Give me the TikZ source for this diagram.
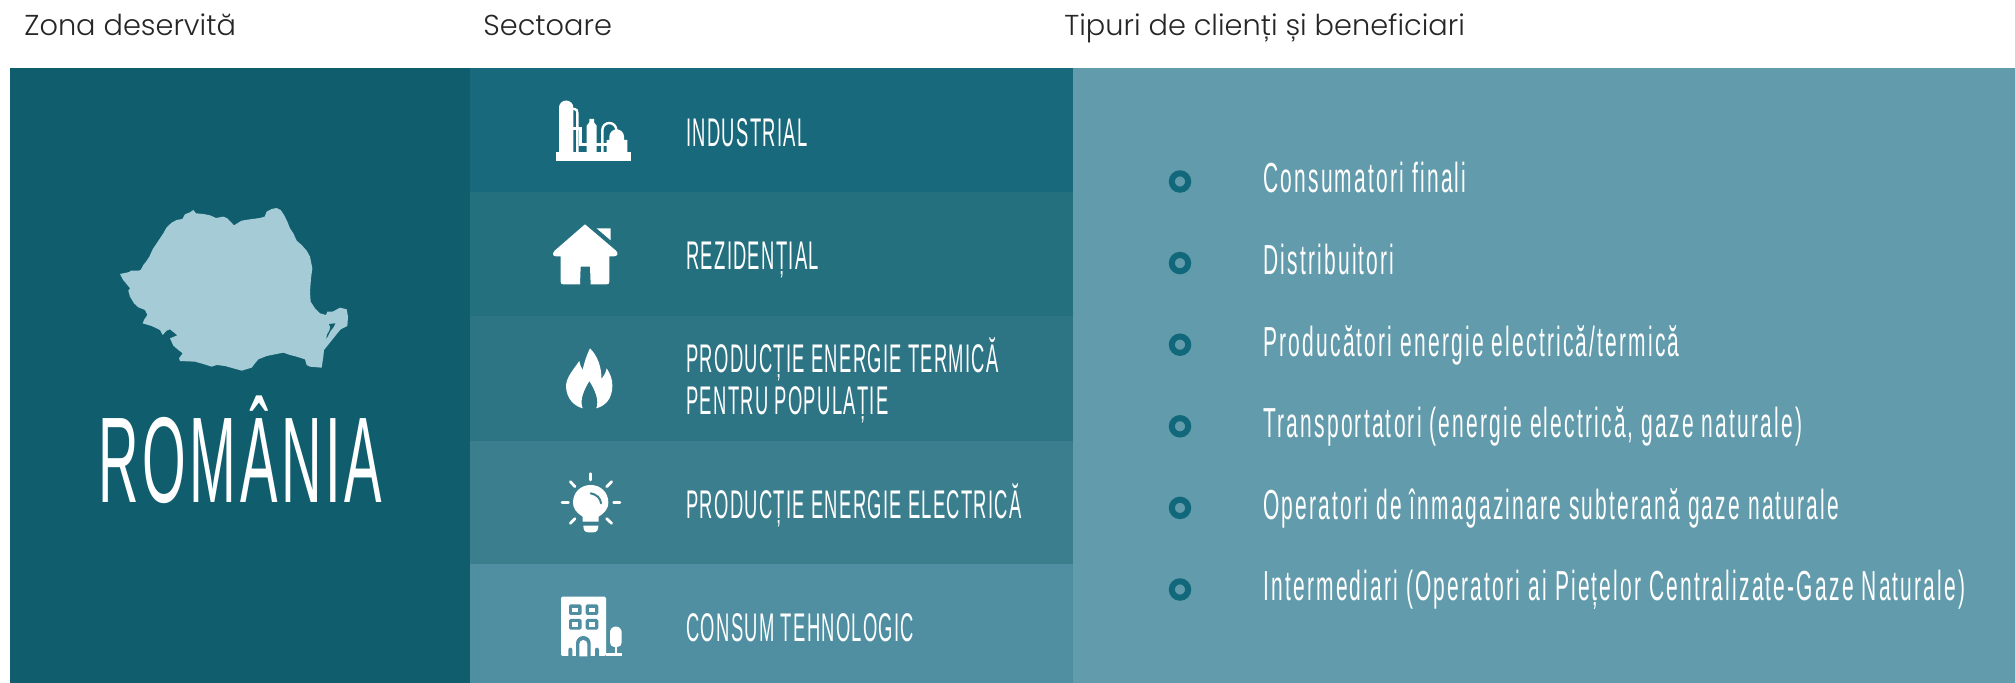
\documentclass[tikz,border=0pt]{standalone}
\usepackage{fontspec}
\setmainfont{Liberation Sans}
\newfontfamily\headfont[UprightFont=* Light]{Poppins}
\newfontfamily\sectfont[FakeStretch=0.46,LetterSpace=3.2]{Liberation Sans}
\newfontfamily\listfont[FakeStretch=0.50,LetterSpace=5.2]{Liberation Sans}
\newfontfamily\bigfont[FakeStretch=0.46,LetterSpace=3]{Liberation Sans}
\definecolor{cdark}{HTML}{105E6D}
\definecolor{crowa}{HTML}{18697C}
\definecolor{crowb}{HTML}{24707F}
\definecolor{crowc}{HTML}{2D7485}
\definecolor{crowd}{HTML}{3B7E8E}
\definecolor{crowe}{HTML}{4F8FA1}
\definecolor{cright}{HTML}{629BAB}
\definecolor{cmap}{HTML}{A4CBD6}
\definecolor{cbul}{HTML}{10687A}
\tikzset{
  headtxt/.style={anchor=base west,inner sep=0pt,text=black!85,font=\headfont\fontsize{14.4}{17}\selectfont},
  secttxt/.style={anchor=base west,inner sep=0pt,text=white,font=\sectfont\fontsize{20}{24}\selectfont},
  listtxt/.style={anchor=base west,inner sep=0pt,text=white,font=\listfont\fontsize{21}{25}\selectfont},
  bigtxt/.style={anchor=base west,inner sep=0pt,text=white,font=\bigfont\fontsize{61}{70}\selectfont},
  bulletdot/.style={circle,draw=cbul,line width=3pt,minimum size=8.2pt,inner sep=0pt,fill=none},
  zoomed/.style={x=0.16667pt,y=-0.16667pt},
  ray/.style={draw=white,line width=1.4pt,line cap=round}
}
\begin{document}
\begin{tikzpicture}[x=0.5pt,y=-0.5pt]
\useasboundingbox (0,0) rectangle (2015,683);
\fill[white] (0,0) rectangle (2015,683);
\fill[cdark] (10,68) rectangle (470,683);
\fill[crowa] (470,68) rectangle (1073,192);
\fill[crowb] (470,192) rectangle (1073,316);
\fill[crowc] (470,316) rectangle (1073,441);
\fill[crowd] (470,441) rectangle (1073,564);
\fill[crowe] (470,564) rectangle (1073,683);
\fill[cright] (1073,68) rectangle (2015,683);
% headers
\node[headtxt] (h1) at (24,36) {Zona deservită};
\node[headtxt] (h2) at (483,36) {Sectoare};
\node[headtxt] (h3) at (1064,36) {Tipuri de clienți și beneficiari};
% map
\begin{scope}[shift={(110,200)},zoomed]
\fill[cmap] (30,222)--(40,220)--(58,216)--(62,212)--(85,212)--(92,210)--(100,195)--(108,185)--(118,170)--(128,148)--(140,130)--(150,115)--(160,100)--(170,82)--(185,68)--(200,60)--(217,57)--(225,43)--(240,37)--(250,30)--(258,40)--(280,42)--(300,46)--(318,54)--(340,50)--(352,55)--(372,76)--(395,62)--(420,58)--(450,54)--(464,50)--(470,35)--(485,27)--(500,24)--(512,30)--(522,45)--(532,65)--(540,85)--(550,100)--(560,122)--(575,135)--(590,152)--(600,170)--(607,205)--(603,235)--(600,275)--(602,305)--(615,325)--(630,340)--(648,345)--(652,335)--(668,335)--(690,323)--(710,328)--(714,350)--(712,378)--(692,388)--(678,405)--(662,425)--(642,450)--(640,470)--(635,503)--(600,500)--(590,495)--(585,478)--(560,470)--(540,465)--(520,458)--(500,462)--(470,468)--(445,478)--(435,490)--(425,503)--(395,512)--(370,505)--(345,498)--(320,495)--(305,500)--(280,492)--(255,485)--(210,483)--(207,475)--(218,460)--(205,450)--(190,437)--(180,415)--(202,406)--(180,388)--(170,392)--(158,405)--(150,390)--(125,378)--(98,370)--(103,358)--(112,345)--(105,330)--(85,322)--(72,310)--(60,290)--(55,272)--(60,265)--(48,250)--(38,238)--cycle;
\fill[cdark] (657,372)--(676,370)--(670,382)--(660,395)--(654,408)--(649,416)--(651,404)--(658,392)--(661,382)--cycle;
\end{scope}
\node[bigtxt] (ro) at (98,503) {ROMÂNIA};
% industrial icon
\begin{scope}[shift={(540,85)},zoomed]
\fill[white] (47,200) rectangle (272,228);
\fill[white] (57,205)--(57,68) arc[start angle=180,end angle=360,radius=21.5]--(100,205)--cycle;
\draw[white,line width=1.2pt] (98,72)--(104,72) .. controls (110,72) and (112,78) .. (112,84)--(112,204);
\draw[white,line width=1.2pt] (98,130)--(121,130)--(121,179)--(142,179);
\fill[white] (140,205)--(140,122)--(148,112)--(148,102)--(162,102)--(162,112)--(170,122)--(170,205)--cycle;
\draw[white,line width=1.2pt] (168,179)--(205,179);
\draw[white,line width=1.2pt] (187,204)--(187,135) arc[start angle=180,end angle=360,radius=21]--(229,140);
\fill[white] (200,205)--(200,165)--(208,165)--(208,155) arc[start angle=180,end angle=360,radius=22]--(252,165)--(262,165)--(262,205)--cycle;
\end{scope}
% house icon
\begin{scope}[shift={(540,85)},zoomed]
\fill[white] (135,418)--(228,497) .. controls (236,505) and (232,514) .. (222,514)--(208,514)--(208,590) .. controls (208,596) and (205,598) .. (200,598)--(152,598)--(150,545)--(122,545)--(120,598)--(70,598) .. controls (65,598) and (62,596) .. (62,590)--(62,514)--(48,514) .. controls (38,514) and (36,505) .. (44,497)--cycle;
\fill[white] (170,430)--(212,430)--(212,466)--cycle;
\end{scope}
% flame icon
\begin{scope}[shift={(540,335)},zoomed]
\fill[white] (150,40) .. controls (172,62) and (185,95) .. (184,132) .. controls (192,122) and (198,112) .. (200,100) .. controls (212,118) and (218,135) .. (217,155) .. controls (216,190) and (198,212) .. (169,220) .. controls (178,195) and (165,165) .. (148,138) .. controls (132,165) and (118,195) .. (128,220) .. controls (100,212) and (80,190) .. (78,155) .. controls (78,130) and (95,110) .. (118,78) .. controls (120,90) and (124,98) .. (128,105) .. controls (132,85) and (140,60) .. (150,40)--cycle;
\end{scope}
% bulb icon
\begin{scope}[shift={(540,335)},zoomed]
\fill[white] (128,560)--(128,545) .. controls (108,532) and (99,520) .. (99,503) .. controls (99,472) and (122,450) .. (152,450) .. controls (182,450) and (205,472) .. (205,503) .. controls (205,520) and (196,532) .. (176,545)--(176,560)--cycle;
\fill[white] (130,572)--(175,572) .. controls (175,586) and (170,592) .. (160,592)--(145,592) .. controls (135,592) and (130,586) .. (130,572)--cycle;
\draw[crowd,line width=1pt,line cap=round] (152,475) .. controls (170,478) and (182,490) .. (183,505);
\draw[ray] (152,416)--(152,435);
\draw[ray] (91,440)--(105,455);
\draw[ray] (215,440)--(200,455);
\draw[ray] (66,502)--(85,502);
\draw[ray] (221,502)--(240,502);
\draw[ray] (91,565)--(105,551);
\draw[ray] (215,565)--(200,551);
\end{scope}
% building icon
\begin{scope}[shift={(540,585)},zoomed]
\fill[white,rounded corners=0.7pt] (63,35) rectangle (198,213);
\foreach \wx/\wy in {87/58,137/58,87/102,137/102}{
  \fill[crowe,rounded corners=0.8pt] (\wx,\wy) rectangle ++(38,32);
  \fill[white] (\wx+10,\wy+10) rectangle ++(18,13);
}
\fill[crowe] (108,214)--(108,175) arc[start angle=180,end angle=360,radius=22]--(152,214)--cycle;
\fill[white] (118,214)--(118,177) arc[start angle=180,end angle=360,radius=12]--(142,214)--cycle;
\fill[crowe] (85,214)--(85,194) arc[start angle=180,end angle=360,radius=6]--(97,214)--cycle;
\fill[crowe] (165,214)--(165,194) arc[start angle=180,end angle=360,radius=6]--(177,214)--cycle;
\fill[white] (210,172)--(210,142) arc[start angle=180,end angle=360,radius=17.5]--(245,172) .. controls (245,180) and (240,186) .. (232,186)--(223,186) .. controls (215,186) and (210,180) .. (210,172)--cycle;
\fill[white] (224,184) rectangle (231,206);
\fill[white] (198,205) rectangle (245,213);
\end{scope}
% sector labels
\node[secttxt] (s1) at (686,147) {INDUSTRIAL};
\node[secttxt] (s2) at (686,270) {REZIDENȚIAL};
\node[secttxt] (s3a) at (686,373) {PRODUCȚIE ENERGIE TERMICĂ};
\node[secttxt] (s3b) at (686,415) {PENTRU POPULAȚIE};
\node[secttxt] (s4) at (686,519) {PRODUCȚIE ENERGIE ELECTRICĂ};
\node[secttxt] (s5) at (686,642) {CONSUM TEHNOLOGIC};
% list
\foreach \i/\yy/\txt in {1/193/{Consumatori finali},2/274.6/{Distribuitori},3/356.2/{Producători energie electrică/termică},4/437.8/{Transportatori (energie electrică, gaze naturale)},5/519.4/{Operatori de înmagazinare subterană gaze naturale},6/601/{Intermediari (Operatori ai Piețelor Centralizate-Gaze Naturale)}}{
  \node[bulletdot] (b\i) at (1180,\yy-11.5) {};
  \node[listtxt] (l\i) at (1263,\yy) {\txt};
}
\end{tikzpicture}
\end{document}
